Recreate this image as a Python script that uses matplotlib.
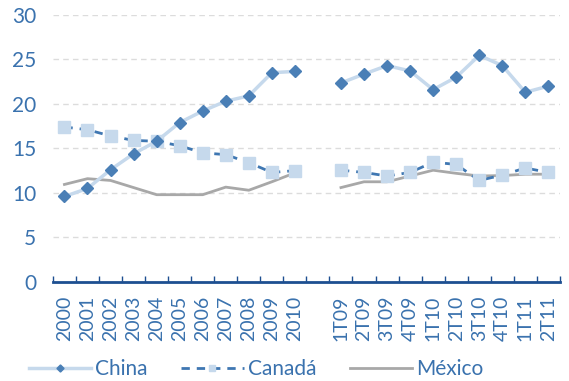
import matplotlib.pyplot as plt
import numpy as np

labels = ["2000", "2001", "2002", "2003", "2004", "2005", "2006", "2007", "2008", "2009", "2010",
          "",
          "1T09", "2T09", "3T09", "4T09", "1T10", "2T10", "3T10", "4T10", "1T11", "2T11"]

china_anual = [9.6, 10.5, 12.6, 14.4, 15.8, 17.9, 19.2, 20.3, 20.9, 23.5, 23.65]
canada_anual = [17.4, 17.1, 16.4, 15.9, 15.8, 15.3, 14.5, 14.3, 13.4, 12.3, 12.5]
mexico_anual = [10.95, 11.6, 11.4, 10.6, 9.8, 9.8, 9.8, 10.65, 10.3, 11.25, 12.25]

china_trim = [22.35, 23.35, 24.3, 23.7, 21.6, 23.0, 25.45, 24.3, 21.3, 22.0]
canada_trim = [12.55, 12.3, 11.9, 12.3, 13.45, 13.2, 11.4, 12.0, 12.8, 12.3]
mexico_trim = [10.6, 11.25, 11.25, 11.9, 12.55, 12.2, 11.9, 11.95, 12.1, 12.1]

# annual values, an empty slot, then quarterly values
gap = [np.nan]
china = china_anual + gap + china_trim
canada = canada_anual + gap + canada_trim
mexico = mexico_anual + gap + mexico_trim

plt.rcParams['font.family'] = ['Lato', 'DejaVu Sans']
txt = '#3a72ae'
dark = '#1d4f91'

fig = plt.figure(figsize=(5.69, 3.81), dpi=100)
ax = fig.add_axes([0.093, 0.26, 0.891, 0.701])

x = np.arange(len(labels))
ax.plot(x, china, color='#c6d9ec', lw=2.5, marker='D', ms=6,
        mfc='#4a7fb6', mec='#4a7fb6', label='China', zorder=3)
ax.plot(x, canada, color='#3f77b2', lw=2, ls=(0, (3, 2.5)), marker='s', ms=8,
        mfc='#c6d9ec', mec='#c6d9ec', label='Canadá', zorder=2)
ax.plot(x, mexico, color='#a8a8a8', lw=2, label='México', zorder=1)

ax.set_xlim(-0.5, len(labels) - 0.5)
ax.set_ylim(0, 30)
ax.set_yticks(range(0, 31, 5))
ax.yaxis.grid(True, ls=(0, (4, 3)), color='#dcdcdc', lw=1)
ax.set_axisbelow(True)

ax.set_xticks(x)
ax.set_xticklabels(labels, rotation=90, color=txt, fontsize=14)
ax.set_xticks(np.arange(-0.5, len(labels)), minor=True)
ax.tick_params(axis='x', which='major', length=0, pad=10)
ax.tick_params(axis='x', which='minor', direction='in', length=4, color=dark, width=1)
ax.tick_params(axis='y', length=0, labelcolor=txt, labelsize=15, pad=12)

for s in ['top', 'right', 'left']:
    ax.spines[s].set_visible(False)
ax.spines['bottom'].set_color(dark)
ax.spines['bottom'].set_linewidth(2)

fig.legend(loc='lower center', bbox_to_anchor=(0.45, -0.045), ncol=3, frameon=False,
           fontsize=15, handlelength=3.0, columnspacing=1.6, labelcolor=txt,
           handletextpad=0.2, markerscale=0.6)

fig.savefig('out.png', dpi=100)
